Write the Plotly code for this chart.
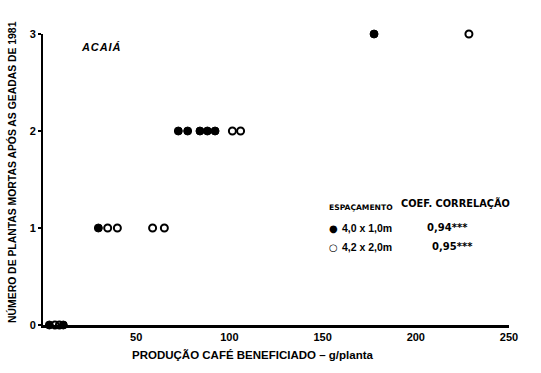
import plotly.graph_objects as go

# Data
x_filled = [3.4, 10.9, 29.7, 72.6, 77.6, 84.2, 88.2, 92.3, 177.6]
y_filled = [0, 0, 1, 2, 2, 2, 2, 2, 3]
x_open = [6.4, 8.8, 34.7, 39.9, 58.8, 65.1, 101.6, 106.0, 228.5]
y_open = [0, 0, 1, 1, 1, 1, 2, 2, 3]

x_ticks = [50, 100, 150, 200, 250]
y_ticks = [0, 1, 2, 3]

legend_rows = ["4,0 x 1,0m", "4,2 x 2,0m"]
legend_coef = ["0,94***", "0,95***"]

FONT = "Liberation Sans"
WIDE = "DejaVu Sans"

fig = go.Figure()
fig.add_trace(go.Scatter(
    x=x_filled, y=y_filled, mode="markers",
    marker=dict(symbol="circle", size=8, color="black", line=dict(color="black", width=1)),
    cliponaxis=False, showlegend=False))
fig.add_trace(go.Scatter(
    x=x_open, y=y_open, mode="markers",
    marker=dict(symbol="circle-open", size=7, color="black", line=dict(color="black", width=2)),
    cliponaxis=False, showlegend=False))

HS = "\u200a"
anns = []
anns.append(dict(x=19.3, y=2.87, xref="x", yref="y", text="<b><i>" + HS.join("ACAIÁ") + "</i></b>",
                 showarrow=False, font=dict(family=FONT, size=11, color="black"),
                 xanchor="left", yanchor="middle"))
anns.append(dict(x=152.4, y=1.216, xref="x", yref="y", text="<b>ESPAÇAMENTO</b>",
                 showarrow=False, font=dict(family=WIDE, size=7.6, color="black"),
                 xanchor="left", yanchor="middle"))
anns.append(dict(x=191.0, y=1.26, xref="x", yref="y", text="<b>COEF. CORRELAÇÃO</b>",
                 showarrow=False, font=dict(family=WIDE, size=9.8, color="black"),
                 xanchor="left", yanchor="middle"))
symbols = ["●", "○"]
coef_x = [204.9, 207.6]
for i, (row, coef) in enumerate(zip(legend_rows, legend_coef)):
    yy = 1.0 - i * 0.196
    anns.append(dict(x=156.1, y=yy, xref="x", yref="y", text="<b>" + symbols[i] + "</b>",
                     showarrow=False, font=dict(family=WIDE, size=10, color="black"),
                     xanchor="center", yanchor="middle"))
    anns.append(dict(x=159.3, y=yy, xref="x", yref="y", text="<b>" + row + "</b>",
                     showarrow=False, font=dict(family=FONT, size=10.5, color="black"),
                     xanchor="left", yanchor="middle"))
    anns.append(dict(x=coef_x[i], y=yy + 0.01, xref="x", yref="y", text="<b>" + coef + "</b>",
                     showarrow=False, font=dict(family=WIDE, size=10, color="black"),
                     xanchor="left", yanchor="middle"))
# axis titles placed to match the reference
anns.append(dict(x=0.4506, y=-0.103, xref="paper", yref="paper",
                 text="<b>PRODUÇÃO CAFÉ BENEFICIADO – g/planta</b>",
                 showarrow=False, font=dict(family=FONT, size=11.5, color="black"),
                 xanchor="center", yanchor="middle"))
anns.append(dict(x=-0.0665, y=0.526, xref="paper", yref="paper", textangle=-90,
                 text="<b>NÚMERO DE PLANTAS MORTAS APÓS AS GEADAS DE 1981</b>",
                 showarrow=False, font=dict(family=FONT, size=10.4, color="black"),
                 xanchor="center", yanchor="middle"))

fig.update_layout(
    width=541, height=373,
    margin=dict(l=43, r=32, t=34, b=48),
    paper_bgcolor="white", plot_bgcolor="white",
    font=dict(family=FONT, color="black"),
    annotations=anns,
    xaxis=dict(range=[0, 250], tickvals=x_ticks, ticktext=["<b>%d</b>" % v for v in x_ticks],
               showgrid=False, zeroline=False, showline=True, linecolor="black", linewidth=2.5,
               ticks="", tickfont=dict(family=FONT, size=11, color="black"), automargin=False),
    yaxis=dict(range=[0, 3], tickvals=y_ticks, ticktext=["<b>%d</b>" % v for v in y_ticks],
               showgrid=False, zeroline=False, showline=True, linecolor="black", linewidth=2,
               ticks="outside", ticklen=3, tickwidth=1.5, tickcolor="black",
               tickfont=dict(family=FONT, size=11, color="black"), automargin=False),
)

fig.write_html("out.html", config={"displayModeBar": False},
               post_script="document.body.style.margin='0';")
